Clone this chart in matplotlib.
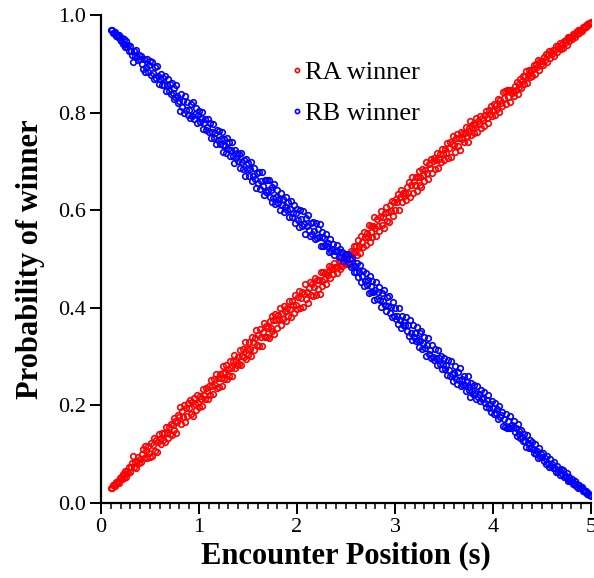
import numpy as np
import matplotlib
matplotlib.use("Agg")
import matplotlib.pyplot as plt
from matplotlib.ticker import MultipleLocator

# -----------------------------------------------------------------------------
# Data: probability that RA wins at 0.01 s steps
# from 0.10 s to 5.00 s. RB winner is the complement of RA in every trial.
# -----------------------------------------------------------------------------
x_start, x_stop = 0.10, 5.00

ra_winner = [
    0.031, 0.030, 0.037, 0.036, 0.035, 0.043, 0.040, 0.045, 0.041, 0.050,
    0.053, 0.048, 0.059, 0.050, 0.059, 0.066, 0.054, 0.065, 0.062, 0.073,
    0.063, 0.074, 0.081, 0.096, 0.073, 0.083, 0.071, 0.086, 0.093, 0.081,
    0.090, 0.083, 0.101, 0.111, 0.091, 0.117, 0.106, 0.091, 0.116, 0.102,
    0.095, 0.123, 0.097, 0.118, 0.132, 0.107, 0.129, 0.105, 0.125, 0.141,
    0.131, 0.120, 0.144, 0.129, 0.143, 0.124, 0.155, 0.143, 0.132, 0.155,
    0.141, 0.161, 0.139, 0.159, 0.173, 0.149, 0.168, 0.144, 0.166, 0.180,
    0.177, 0.197, 0.161, 0.189, 0.177, 0.201, 0.165, 0.194, 0.178, 0.205,
    0.194, 0.211, 0.183, 0.206, 0.179, 0.214, 0.202, 0.190, 0.222, 0.205,
    0.197, 0.220, 0.212, 0.199, 0.233, 0.221, 0.213, 0.236, 0.230, 0.213,
    0.240, 0.222, 0.252, 0.240, 0.223, 0.253, 0.241, 0.265, 0.235, 0.256,
    0.238, 0.264, 0.255, 0.239, 0.266, 0.280, 0.254, 0.269, 0.282, 0.253,
    0.274, 0.260, 0.290, 0.276, 0.261, 0.290, 0.304, 0.276, 0.293, 0.283,
    0.300, 0.284, 0.313, 0.283, 0.302, 0.315, 0.298, 0.329, 0.295, 0.315,
    0.304, 0.329, 0.316, 0.302, 0.340, 0.329, 0.313, 0.337, 0.354, 0.324,
    0.344, 0.321, 0.357, 0.341, 0.322, 0.350, 0.369, 0.339, 0.362, 0.339,
    0.358, 0.338, 0.373, 0.358, 0.383, 0.352, 0.375, 0.347, 0.387, 0.374,
    0.359, 0.386, 0.377, 0.399, 0.364, 0.390, 0.377, 0.403, 0.393, 0.372,
    0.400, 0.384, 0.413, 0.397, 0.382, 0.414, 0.406, 0.390, 0.427, 0.405,
    0.398, 0.421, 0.434, 0.399, 0.419, 0.433, 0.401, 0.428, 0.448, 0.417,
    0.432, 0.409, 0.440, 0.453, 0.426, 0.449, 0.424, 0.442, 0.460, 0.426,
    0.457, 0.439, 0.456, 0.429, 0.474, 0.455, 0.444, 0.474, 0.458, 0.471,
    0.448, 0.473, 0.467, 0.486, 0.460, 0.483, 0.479, 0.469, 0.492, 0.483,
    0.483, 0.471, 0.484, 0.496, 0.480, 0.495, 0.486, 0.504, 0.498, 0.489,
    0.489, 0.501, 0.489, 0.509, 0.500, 0.517, 0.499, 0.514, 0.527, 0.515,
    0.526, 0.509, 0.538, 0.526, 0.512, 0.548, 0.535, 0.525, 0.556, 0.545,
    0.529, 0.554, 0.544, 0.569, 0.534, 0.556, 0.568, 0.545, 0.567, 0.585,
    0.564, 0.548, 0.582, 0.567, 0.558, 0.585, 0.598, 0.569, 0.587, 0.564,
    0.594, 0.607, 0.578, 0.596, 0.576, 0.611, 0.598, 0.618, 0.588, 0.616,
    0.600, 0.623, 0.616, 0.633, 0.601, 0.626, 0.642, 0.616, 0.635, 0.629,
    0.635, 0.620, 0.648, 0.635, 0.658, 0.626, 0.651, 0.667, 0.636, 0.660,
    0.651, 0.668, 0.640, 0.667, 0.680, 0.652, 0.669, 0.647, 0.684, 0.672,
    0.659, 0.682, 0.698, 0.677, 0.663, 0.695, 0.686, 0.704, 0.676, 0.700,
    0.707, 0.685, 0.703, 0.718, 0.686, 0.704, 0.716, 0.699, 0.725, 0.715,
    0.703, 0.726, 0.717, 0.737, 0.707, 0.727, 0.739, 0.709, 0.735, 0.751,
    0.734, 0.720, 0.747, 0.757, 0.732, 0.748, 0.724, 0.760, 0.746, 0.758,
    0.739, 0.758, 0.771, 0.752, 0.740, 0.769, 0.762, 0.783, 0.754, 0.770,
    0.776, 0.759, 0.774, 0.788, 0.760, 0.783, 0.776, 0.792, 0.769, 0.788,
    0.785, 0.773, 0.796, 0.804, 0.789, 0.778, 0.805, 0.798, 0.814, 0.792,
    0.806, 0.817, 0.795, 0.815, 0.808, 0.828, 0.801, 0.825, 0.819, 0.813,
    0.842, 0.829, 0.845, 0.817, 0.847, 0.832, 0.847, 0.821, 0.847, 0.841,
    0.845, 0.833, 0.854, 0.846, 0.862, 0.839, 0.859, 0.853, 0.868, 0.850,
    0.864, 0.874, 0.858, 0.874, 0.885, 0.861, 0.878, 0.888, 0.872, 0.887,
    0.876, 0.890, 0.898, 0.879, 0.899, 0.893, 0.908, 0.888, 0.905, 0.900,
    0.906, 0.898, 0.914, 0.908, 0.920, 0.904, 0.918, 0.926, 0.911, 0.925,
    0.920, 0.929, 0.917, 0.929, 0.936, 0.924, 0.936, 0.933, 0.942, 0.930,
    0.940, 0.933, 0.947, 0.942, 0.948, 0.939, 0.955, 0.952, 0.946, 0.955,
    0.955, 0.951, 0.961, 0.959, 0.955, 0.965, 0.962, 0.970, 0.964, 0.970,
    0.970, 0.968, 0.975, 0.973, 0.978, 0.975, 0.981, 0.980, 0.983, 0.984,
    0.986,
]

ra_winner = np.array(ra_winner)
rb_winner = 1.0 - ra_winner
position = np.round(np.linspace(x_start, x_stop, len(ra_winner)), 2)

series_labels = ["RA winner", "RB winner"]
series_colors = ["#FF0000", "#0000FF"]

plt.rcParams["font.family"] = ["Liberation Serif", "DejaVu Serif"]

fig = plt.figure(figsize=(5.94, 5.78), dpi=100)
ax = fig.add_axes([0.170, 0.130, 0.825, 0.844])

for y, lab, col in zip([ra_winner, rb_winner], series_labels, series_colors):
    ax.plot(position, y, ls="none", marker="o", markersize=4.0,
            markerfacecolor="none", markeredgecolor=col,
            markeredgewidth=1.2, label=lab)

ax.set_xlim(0, 5)
ax.set_ylim(0, 1.0)
ax.xaxis.set_major_locator(MultipleLocator(1))
ax.xaxis.set_minor_locator(MultipleLocator(0.1))
ax.yaxis.set_major_locator(MultipleLocator(0.2))
ax.yaxis.set_major_formatter(plt.FormatStrFormatter("%.1f"))

for side in ["top", "right"]:
    ax.spines[side].set_visible(False)
for side in ["left", "bottom"]:
    ax.spines[side].set_linewidth(1.6)

ax.tick_params(axis="both", which="major", direction="out", length=8,
               width=1.4, pad=3)
ax.tick_params(axis="x", which="minor", direction="out", length=4,
               width=1.1)
ax.tick_params(axis="y", labelsize=16)
ax.tick_params(axis="x", labelsize=16)

ax.set_xlabel("Encounter Position (s)", fontsize=22, fontweight="bold",
              labelpad=3)
ax.set_ylabel("Probability of winner", fontsize=22, fontweight="bold",
              labelpad=9)

leg = ax.legend(loc="upper left", bbox_to_anchor=(0.352, 0.945),
                frameon=False, fontsize=19, markerscale=0.75,
                handlelength=0.4, handletextpad=0.1, labelspacing=0.68,
                borderpad=0.2)

fig.savefig("out.png", dpi=100)
